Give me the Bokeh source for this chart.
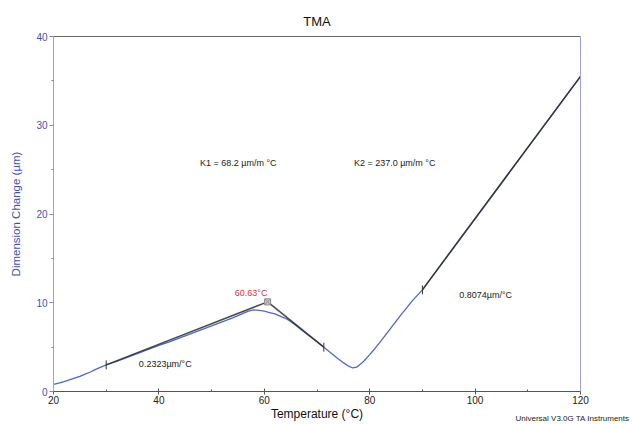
import numpy as np
from bokeh.plotting import figure
from bokeh.models import Range1d, LinearAxis, FixedTicker, Label, Title
from bokeh.embed import file_html
from bokeh.resources import INLINE

# ---- data ----
temperature = [20, 21, 22, 23, 24, 25, 26, 27, 28, 29, 30, 32, 34, 36, 38, 40,
               42, 44, 46, 48, 50, 52, 54, 56, 57, 58, 59, 60, 61, 62, 63, 64,
               65, 66, 68, 70, 72, 74, 75, 76, 76.8, 77.5, 78, 78.5, 79, 80,
               81, 82, 84, 86, 88, 90, 95, 100, 105, 110, 115, 120]
dimension = [0.8, 0.95, 1.1, 1.3, 1.5, 1.7, 1.95, 2.2, 2.5, 2.75, 3.0, 3.4,
             3.85, 4.3, 4.75, 5.2, 5.6, 6.05, 6.5, 6.95, 7.4, 7.85, 8.3, 8.8,
             9.05, 9.2, 9.15, 9.05, 8.9, 8.75, 8.5, 8.25, 7.9, 7.45, 6.5, 5.6,
             4.65, 3.7, 3.25, 2.85, 2.65, 2.75, 2.95, 3.2, 3.5, 4.15, 4.85, 5.6,
             7.15, 8.7, 10.15, 11.45, 15.5, 19.5, 23.5, 27.5, 31.5, 35.5]

tangent1_t = [30, 60.63]
tangent1_d = [3.0, 10.1]
tangent2_t = [60.63, 71.3]
tangent2_d = [10.1, 5.0]
tangent3_t = [90, 120]
tangent3_d = [11.45, 35.5]

mark_t = [30, 71.3, 90, 120]
mark_d = [3.0, 5.0, 11.45, 35.5]
onset_t = [60.63]
onset_d = [10.1]

x_ticks = [20, 40, 60, 80, 100, 120]
x_minor = [30, 50, 70, 90, 110]
y_ticks = [0, 10, 20, 30, 40]
y_minor = [5, 15, 25, 35]

FONT = "Liberation Sans"
BLUE = "#5565c4"
AXBLUE = "#3f52b3"

p = figure(width=633, height=424, output_backend="svg", toolbar_location=None,
           x_range=Range1d(20, 120), y_range=Range1d(0, 40),
           min_border_left=53, min_border_right=53, min_border_top=36,
           min_border_bottom=33)
p.title.text = "TMA"
p.title.align = "center"
p.title.text_font = FONT
p.title.text_font_size = "13px"
p.title.text_font_style = "normal"
p.title.text_color = "#111111"
p.title.standoff = 16
p.grid.visible = False
p.outline_line_color = None
p.background_fill_color = "white"
p.border_fill_color = "white"

xa = p.xaxis[0]
xa.ticker = FixedTicker(ticks=x_ticks, minor_ticks=x_minor)
xa.axis_line_color = "#555555"
xa.major_tick_line_color = "#555555"
xa.minor_tick_line_color = "#555555"
xa.major_tick_in = 3
xa.major_tick_out = 3
xa.minor_tick_in = 2
xa.minor_tick_out = 0
xa.major_label_standoff = 1
xa.major_label_text_font = FONT
xa.major_label_text_font_size = "10px"
xa.major_label_text_color = "#222222"
xa.axis_label = "Temperature (°C)"
xa.axis_label_text_font = FONT
xa.axis_label_text_font_size = "12px"
xa.axis_label_text_font_style = "normal"
xa.axis_label_text_color = "#111111"
xa.axis_label_standoff = 0

ya = p.yaxis[0]
ya.ticker = FixedTicker(ticks=y_ticks, minor_ticks=y_minor)
ya.axis_line_color = "#9aa0e0"
ya.major_tick_line_color = "#7a82d0"
ya.minor_tick_line_color = "#7a82d0"
ya.major_tick_in = 0
ya.major_tick_out = 4
ya.minor_tick_in = 0
ya.minor_tick_out = 2
ya.major_label_standoff = 2
ya.major_label_text_font = FONT
ya.major_label_text_font_size = "10px"
ya.major_label_text_color = AXBLUE
ya.axis_label = "Dimension Change (µm)"
ya.axis_label_text_font = FONT
ya.axis_label_text_font_size = "11.5px"
ya.axis_label_text_font_style = "normal"
ya.axis_label_text_color = AXBLUE
ya.axis_label_standoff = 11

top = LinearAxis(ticker=FixedTicker(ticks=[]), major_label_text_font_size="0px",
                 major_tick_line_color=None, minor_tick_line_color=None,
                 axis_line_color="#666666")
p.add_layout(top, "above")
right = LinearAxis(ticker=FixedTicker(ticks=[]), major_label_text_font_size="0px",
                   major_tick_line_color=None, minor_tick_line_color=None,
                   axis_line_color="#9aa0e0")
p.add_layout(right, "right")

foot = Title(text="Universal V3.0G TA Instruments", align="left", offset=462,
             vertical_align="top", standoff=-20, text_font=FONT,
             text_font_size="8px", text_font_style="normal", text_color="#222222")
p.add_layout(foot, "below")

# curve and tangents
p.line(temperature, dimension, line_color=BLUE, line_width=1.3)
for tt, dd in [(tangent1_t, tangent1_d), (tangent2_t, tangent2_d), (tangent3_t, tangent3_d)]:
    p.line(tt, dd, line_color="#2a2a2a", line_width=1.5, line_alpha=0.85)
p.scatter(mark_t, mark_d, marker="dash", angle=np.pi / 2, size=9,
          line_color="#333333", line_width=1)
p.scatter(onset_t, onset_d, marker="square_x", size=6, line_color="#888888",
          fill_color="#cccccc", line_width=1)

def lab(x, y, text, size, color="#222222", align="left"):
    p.add_layout(Label(x=x, y=y, text=text, text_font=FONT, text_font_size=size,
                       text_color=color, text_align=align, text_baseline="middle"))

lab(47.8, 25.7, "K1 =  68.2 µm/m °C", "9px")
lab(77.0, 25.7, "K2 = 237.0 µm/m °C", "9px")
lab(57.5, 11.15, "60.63°C", "9px", color="#e03030", align="center")
lab(36.2, 3.05, "0.2323µm/°C", "9px")
lab(97.0, 10.9, "0.8074µm/°C", "9px")

open("out.html", "w").write(file_html(p, INLINE))
